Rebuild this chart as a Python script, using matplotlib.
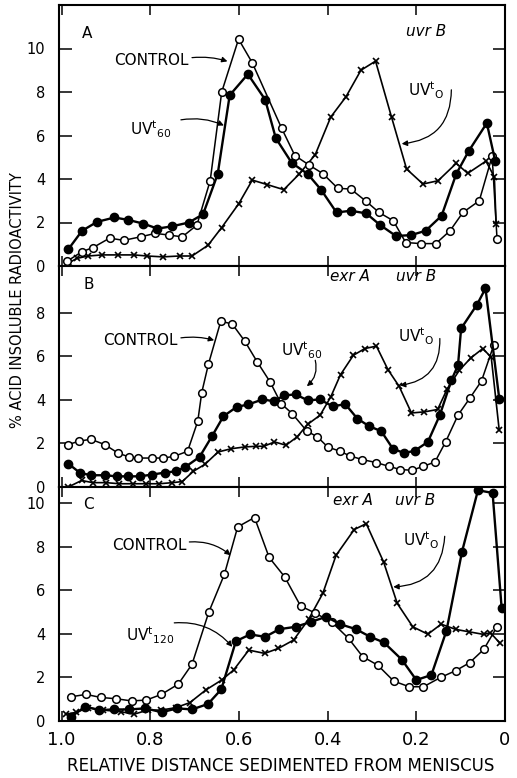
import matplotlib
matplotlib.use("Agg")
import matplotlib.pyplot as plt

plt.rcParams['font.family'] = ['DejaVu Sans']

# ---------------- data ----------------
# Panel A (uvrB)
A_ctrl_x = [0.987, 0.954, 0.929, 0.892, 0.86, 0.82, 0.789, 0.757, 0.728, 0.695, 0.665, 0.639, 0.601, 0.57,
            0.504, 0.474, 0.441, 0.411, 0.377, 0.348, 0.313, 0.284, 0.252, 0.224, 0.19, 0.156, 0.124, 0.095,
            0.058, 0.029, 0.018]
A_ctrl_y = [0.23, 0.66, 0.85, 1.28, 1.18, 1.35, 1.5, 1.42, 1.34, 1.88, 3.92, 8.0, 10.43, 9.34,
            6.34, 5.08, 4.63, 4.25, 3.57, 3.54, 2.97, 2.46, 2.08, 1.08, 1.03, 1.03, 1.62, 2.46,
            3.0, 5.05, 1.26]
A_uv60_x = [0.985, 0.954, 0.92, 0.881, 0.85, 0.816, 0.784, 0.752, 0.713, 0.681, 0.648, 0.621, 0.58, 0.541,
            0.517, 0.481, 0.445, 0.415, 0.38, 0.348, 0.313, 0.282, 0.246, 0.212, 0.179, 0.143, 0.11, 0.082,
            0.041, 0.022]
A_uv60_y = [0.77, 1.62, 2.03, 2.23, 2.12, 1.95, 1.72, 1.82, 2.0, 2.38, 4.23, 7.85, 8.82, 7.65,
            5.88, 4.74, 4.23, 3.51, 2.46, 2.54, 2.42, 1.89, 1.38, 1.42, 1.62, 2.31, 4.23, 5.28,
            6.57, 4.82]
A_uv0_x = [0.983, 0.966, 0.94, 0.908, 0.874, 0.837, 0.807, 0.772, 0.734, 0.706, 0.67, 0.639, 0.601, 0.57,
           0.536, 0.499, 0.464, 0.428, 0.393, 0.359, 0.325, 0.292, 0.256, 0.222, 0.185, 0.151, 0.11, 0.084,
           0.043, 0.024, 0.02]
A_uv0_y = [0.15, 0.35, 0.46, 0.51, 0.51, 0.51, 0.46, 0.42, 0.46, 0.46, 0.95, 1.77, 2.85, 3.95,
           3.74, 3.51, 4.23, 5.12, 6.85, 7.77, 9.0, 9.42, 6.85, 4.46, 3.77, 3.92, 4.72, 4.26,
           4.82, 4.1, 1.92]

# Panel B (exrA uvrB)
B_ctrl_x = [0.985, 0.96, 0.934, 0.903, 0.873, 0.848, 0.827, 0.796, 0.771, 0.746, 0.716, 0.693, 0.684, 0.669,
            0.641, 0.615, 0.587, 0.559, 0.53, 0.505, 0.48, 0.447, 0.423, 0.4, 0.372, 0.35, 0.322, 0.29,
            0.262, 0.236, 0.21, 0.184, 0.158, 0.134, 0.106, 0.079, 0.053, 0.0255]
B_ctrl_y = [1.95, 2.11, 2.19, 1.95, 1.56, 1.38, 1.33, 1.33, 1.33, 1.41, 1.64, 3.02, 4.34, 5.64,
            7.62, 7.48, 6.7, 5.75, 4.83, 3.83, 3.37, 2.57, 2.3, 1.84, 1.64, 1.43, 1.26, 1.12,
            0.95, 0.8, 0.77, 0.95, 1.15, 2.07, 3.3, 4.09, 4.87, 6.51]
B_uv60_x = [0.985, 0.958, 0.933, 0.903, 0.876, 0.85, 0.824, 0.796, 0.768, 0.742, 0.721, 0.689, 0.661, 0.635,
            0.605, 0.579, 0.547, 0.521, 0.498, 0.472, 0.445, 0.418, 0.389, 0.36, 0.333, 0.307, 0.279, 0.253,
            0.228, 0.204, 0.174, 0.147, 0.121, 0.106, 0.099, 0.063, 0.044, 0.013]
B_uv60_y = [1.07, 0.64, 0.54, 0.54, 0.49, 0.49, 0.49, 0.57, 0.66, 0.72, 0.92, 1.38, 2.33, 3.25,
            3.68, 3.79, 4.02, 3.94, 4.21, 4.25, 3.98, 4.02, 3.71, 3.8, 3.14, 2.8, 2.56, 1.76,
            1.56, 1.66, 2.07, 3.3, 4.9, 5.59, 7.28, 8.38, 9.12, 4.06]
B_uv0_x = [0.985, 0.955, 0.93, 0.9, 0.87, 0.84, 0.81, 0.78, 0.75, 0.728, 0.703, 0.677, 0.647, 0.617,
           0.587, 0.561, 0.544, 0.52, 0.494, 0.469, 0.445, 0.417, 0.393, 0.371, 0.342, 0.316, 0.29, 0.264,
           0.239, 0.211, 0.182, 0.152, 0.13, 0.103, 0.077, 0.05, 0.031, 0.013]
B_uv0_y = [0.0, 0.3, 0.2, 0.2, 0.15, 0.15, 0.15, 0.15, 0.2, 0.25, 0.72, 1.04, 1.61, 1.76,
           1.84, 1.87, 1.87, 2.07, 1.92, 2.3, 2.88, 3.3, 4.14, 5.16, 6.05, 6.36, 6.47, 5.39,
           4.63, 3.4, 3.45, 3.56, 4.52, 5.36, 5.93, 6.36, 5.95, 2.6]

# Panel C (exrA uvrB)
C_ctrl_x = [0.979, 0.945, 0.912, 0.877, 0.842, 0.809, 0.775, 0.737, 0.706, 0.668, 0.633, 0.603, 0.565, 0.532,
            0.497, 0.461, 0.429, 0.39, 0.353, 0.321, 0.287, 0.251, 0.216, 0.184, 0.145, 0.111, 0.08, 0.048,
            0.018]
C_ctrl_y = [1.11, 1.22, 1.08, 1.02, 0.92, 0.96, 1.22, 1.69, 2.6, 5.0, 6.72, 8.9, 9.33, 7.5,
            6.61, 5.27, 4.96, 4.52, 3.79, 2.95, 2.56, 1.83, 1.57, 1.57, 2.0, 2.31, 2.67, 3.28,
            4.32]
C_uv120_x = [0.98, 0.947, 0.915, 0.882, 0.848, 0.811, 0.774, 0.74, 0.706, 0.67, 0.64, 0.607, 0.575, 0.541,
             0.509, 0.472, 0.437, 0.403, 0.372, 0.336, 0.304, 0.273, 0.233, 0.2, 0.166, 0.132, 0.097, 0.061,
             0.028, 0.0075]
C_uv120_y = [0.17, 0.66, 0.5, 0.53, 0.53, 0.58, 0.4, 0.58, 0.53, 0.78, 1.45, 3.66, 3.97, 3.86,
             4.21, 4.32, 4.55, 4.78, 4.44, 4.21, 3.86, 3.6, 2.82, 1.88, 2.11, 4.14, 7.76, 10.58,
             10.46, 5.16]
C_uv0_x = [0.99, 0.967, 0.94, 0.907, 0.867, 0.837, 0.806, 0.776, 0.743, 0.711, 0.675, 0.639, 0.612, 0.578,
           0.542, 0.511, 0.477, 0.443, 0.411, 0.381, 0.34, 0.313, 0.274, 0.243, 0.208, 0.174, 0.144, 0.111,
           0.081, 0.048, 0.033, 0.011]
C_uv0_y = [0.31, 0.4, 0.61, 0.5, 0.43, 0.31, 0.5, 0.5, 0.61, 0.84, 1.42, 1.88, 2.34, 3.25,
           3.1, 3.33, 3.71, 4.66, 5.85, 7.6, 8.78, 9.05, 7.3, 5.39, 4.32, 3.98, 4.44, 4.2,
           4.09, 3.97, 4.05, 3.56]

x_ticks = [1.0, 0.8, 0.6, 0.4, 0.2, 0.0]
x_ticklabels = ['1.0', '0.8', '0.6', '0.4', '0.2', '0']

# ---------------- figure ----------------
W, H = 517, 778
fig = plt.figure(figsize=(W / 100, H / 100), dpi=100)

left = 59 / W
width = (505 - 59) / W
panels = [  # top px, bottom px, ymax, yticks
    (5, 266, 12.0, [0, 2, 4, 6, 8, 10]),
    (266, 487, 10.15, [0, 2, 4, 6, 8]),
    (487, 721, 10.73, [0, 2, 4, 6, 8, 10]),
]
axes = []
for top, bot, ymax, yt in panels:
    ax = fig.add_axes([left, 1 - bot / H, width, (bot - top) / H])
    ax.set_xlim(1.006, 0.005)
    ax.set_ylim(0, ymax)
    ax.set_yticks(yt)
    ax.set_yticklabels([str(v) for v in yt], fontsize=10.5)
    ax.set_xticks(x_ticks)
    ax.tick_params(axis='y', direction='in', length=9, width=1.1, left=True, right=True, pad=10)
    ax.tick_params(axis='x', direction='in', length=7, width=1.1, top=True, bottom=True, pad=7)
    for s in ax.spines.values():
        s.set_linewidth(1.5)
    axes.append(ax)

axA, axB, axC = axes
axA.set_xticklabels([])
axB.set_xticklabels([])
axC.set_xticklabels(x_ticklabels, fontsize=13)


def draw(ax, ctrl, filled, cross):
    ax.plot(cross[0], cross[1], color='black', lw=1.2, marker='x', ms=5, mew=1.2, zorder=2)
    ax.plot(ctrl[0], ctrl[1], color='black', lw=1.1, marker='o', ms=5.5, mfc='white', mec='black', mew=1.1,
            zorder=3)
    ax.plot(filled[0], filled[1], color='black', lw=1.7, marker='o', ms=6, mfc='black', mec='black', zorder=4)


draw(axA, (A_ctrl_x, A_ctrl_y), (A_uv60_x, A_uv60_y), (A_uv0_x, A_uv0_y))
draw(axB, (B_ctrl_x, B_ctrl_y), (B_uv60_x, B_uv60_y), (B_uv0_x, B_uv0_y))
draw(axC, (C_ctrl_x, C_ctrl_y), (C_uv120_x, C_uv120_y), (C_uv0_x, C_uv0_y))

lab = dict(fontsize=11, color='black', ha='center', va='center')


def arrow(ax, start, end, rad):
    ax.annotate('', xy=end, xytext=start,
                arrowprops=dict(arrowstyle='-|>', color='black', lw=0.9, mutation_scale=8,
                                shrinkA=0, shrinkB=0, connectionstyle='arc3,rad=%g' % rad))


UV60 = r'UV$^{\mathregular{t}}$$_{\mathregular{60}}$'
UV0 = r'UV$^{\mathregular{t}}$$_{\mathregular{O}}$'
UV120 = r'UV$^{\mathregular{t}}$$_{\mathregular{120}}$'

# Panel A texts
axA.text(0.942, 10.69, 'A', **lab)
axA.text(0.177, 10.77, 'uvr B', style='italic', **lab)
axA.text(0.798, 9.46, 'CONTROL', **lab)
arrow(axA, (0.706, 9.58), (0.626, 9.41), -0.1)
axA.text(0.80, 6.3, UV60, **lab)
arrow(axA, (0.731, 6.72), (0.634, 6.46), -0.15)
axA.text(0.177, 8.1, UV0, **lab)
arrow(axA, (0.121, 8.1), (0.233, 5.62), -0.45)

# Panel B texts
axB.text(0.938, 9.32, 'B', **lab)
axB.text(0.349, 9.66, 'exr A', style='italic', **lab)
axB.text(0.2, 9.66, 'uvr B', style='italic', **lab)
axB.text(0.823, 6.74, 'CONTROL', **lab)
arrow(axB, (0.731, 6.85), (0.656, 6.74), -0.1)
axB.text(0.458, 6.3, UV60, **lab)
arrow(axB, (0.428, 5.82), (0.447, 4.63), -0.3)
axB.text(0.2, 6.9, UV0, **lab)
arrow(axB, (0.147, 6.82), (0.237, 4.67), -0.45)

# Panel C texts
axC.text(0.94, 9.94, 'C', **lab)
axC.text(0.342, 10.12, 'exr A', style='italic', **lab)
axC.text(0.203, 10.12, 'uvr B', style='italic', **lab)
axC.text(0.803, 8.06, 'CONTROL', **lab)
arrow(axC, (0.712, 8.21), (0.619, 7.6), -0.2)
axC.text(0.80, 3.95, UV120, **lab)
arrow(axC, (0.746, 4.5), (0.615, 3.4), -0.25)
axC.text(0.19, 8.3, UV0, **lab)
arrow(axC, (0.136, 8.47), (0.252, 6.15), -0.45)

fig.text(18 / W, 1 - 300 / H, '% ACID INSOLUBLE RADIOACTIVITY', rotation=90, ha='center', va='center',
         fontsize=10.5)
fig.text(281 / W, 1 - 766 / H, 'RELATIVE DISTANCE SEDIMENTED FROM MENISCUS', ha='center', va='center',
         fontsize=12)

fig.savefig('out.png', dpi=100)
